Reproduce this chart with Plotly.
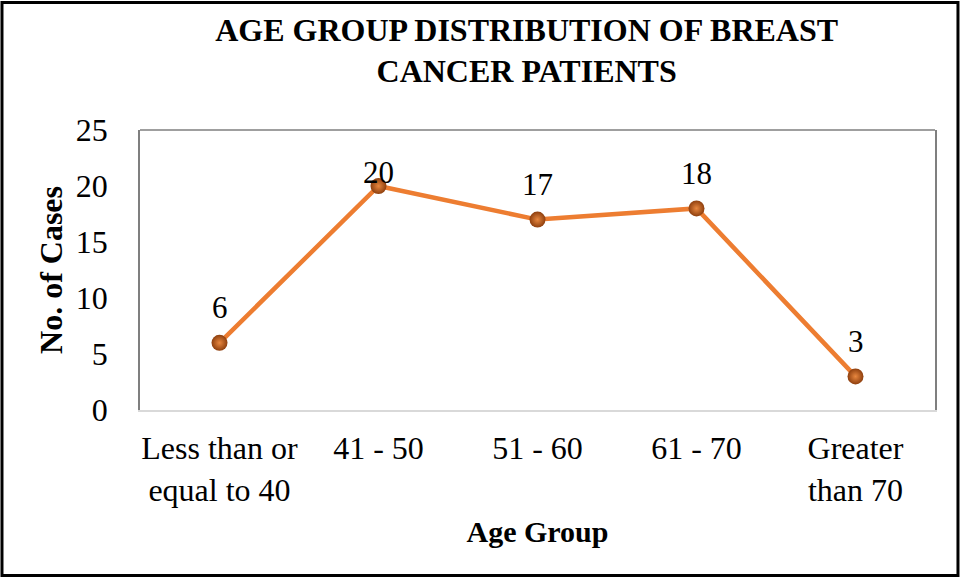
#!/usr/bin/env python
# -*- coding: utf-8 -*-

from plotly.graph_objects import Figure
from plotly.graph_objects import Scatter

age_groups = ["Less than or<br>equal to 40", "41 - 50", "51 - 60", "61 - 70", "Greater<br>than 70"]
cases = [6, 20, 17, 18, 3]
y_ticks = [0, 5, 10, 15, 20, 25]

FONT = "Liberation Serif, Times New Roman, serif"


def create_figure():
    figure = Figure()
    figure.add_trace(
        Scatter(
            x=age_groups,
            y=cases,
            mode="lines+markers",
            line=dict(color="#ed7d31", width=4.5),
            marker=dict(
                size=16,
                color="#8e3f0e",
                gradient=dict(type="radial", color="#e8873f"),
                line=dict(width=0),
            ),
            cliponaxis=False,
        ),
    )
    # data labels above each point (the top one sits lower, as in the original)
    top = max(cases)
    for group, value in zip(age_groups, cases):
        figure.add_annotation(
            x=group, y=value, text=str(value), showarrow=False,
            yshift=14 if value == top else 35,
            font=dict(family=FONT, size=31, color="#000000"),
        )
    figure.update_layout(
        width=961,
        height=580,
        margin=dict(t=130, r=26, b=170, l=140),
        paper_bgcolor="white",
        plot_bgcolor="white",
        showlegend=False,
        font=dict(family=FONT, color="#000000"),
        title=dict(
            text="<b>AGE GROUP DISTRIBUTION OF BREAST<br>CANCER PATIENTS</b>",
            x=0.548,
            xanchor="center",
            y=0.93,
            yanchor="top",
            font=dict(family=FONT, size=32, color="#000000"),
        ),
    )
    figure.update_xaxes(
        type="category",
        range=[-0.5, 4.5],
        showgrid=False,
        zeroline=False,
        showline=True,
        linecolor="#d9d9d9",
        linewidth=1.5,
        ticks="",
        ticklabelstandoff=9,
        tickfont=dict(family=FONT, size=32),
        title=dict(text="<b>Age Group</b>", font=dict(family=FONT, size=30), standoff=14),
    )
    figure.update_yaxes(
        range=[0, 25],
        tickvals=y_ticks,
        showgrid=False,
        zeroline=False,
        showline=True,
        mirror=True,
        linecolor="#7f7f7f",
        linewidth=1.5,
        ticks="",
        ticklabelstandoff=24,
        tickfont=dict(family=FONT, size=32),
        title=dict(text="<b>No. of Cases</b>", font=dict(family=FONT, size=32), standoff=4),
    )
    # top edge of the plot area
    figure.add_shape(type="line", xref="paper", yref="paper", x0=0, x1=1, y0=1, y1=1,
                     line=dict(color="#7f7f7f", width=1.5))
    # outer chart border
    figure.add_shape(type="rect", xref="paper", yref="paper",
                     x0=-0.1736, x1=1.0289, y0=-0.5911, y1=1.4554,
                     line=dict(color="#000000", width=3))
    return figure


fig = create_figure()
fig.write_html("out.html", config=dict(displayModeBar=False),
               post_script="document.body.style.margin='0';")
